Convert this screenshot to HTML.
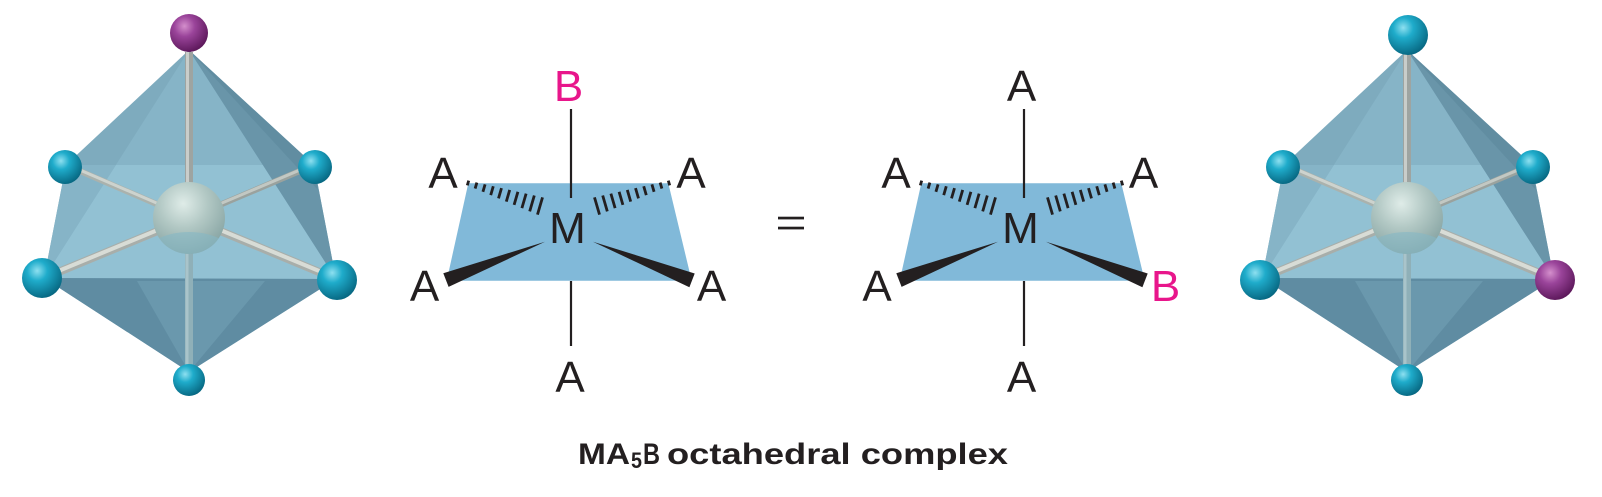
<!DOCTYPE html>
<html>
<head>
<meta charset="utf-8">
<style>
  html,body{margin:0;padding:0;background:#fff;}
  svg{display:block;}
  .lbl{font-family:"Liberation Sans",sans-serif;font-size:44px;fill:#231f20;}
  .pk{fill:#e8168b;}
  .cap{font-family:"Liberation Sans",sans-serif;font-weight:bold;fill:#231f20;}
</style>
</head>
<body>
<svg width="1602" height="497" viewBox="0 0 1602 497" xmlns="http://www.w3.org/2000/svg">
  <defs>
    <radialGradient id="cy" cx="0.38" cy="0.32" r="0.72">
      <stop offset="0" stop-color="#8ee0f0"/>
      <stop offset="0.35" stop-color="#1faccb"/>
      <stop offset="1" stop-color="#06657f"/>
    </radialGradient>
    <radialGradient id="pu" cx="0.38" cy="0.32" r="0.72">
      <stop offset="0" stop-color="#d48fcc"/>
      <stop offset="0.38" stop-color="#9a449a"/>
      <stop offset="1" stop-color="#5a1658"/>
    </radialGradient>
    <radialGradient id="ms" cx="0.42" cy="0.3" r="0.75">
      <stop offset="0" stop-color="#dfece8"/>
      <stop offset="0.45" stop-color="#b2c8c4"/>
      <stop offset="1" stop-color="#83a1a0"/>
    </radialGradient>
    <clipPath id="msclip"><circle cx="189" cy="218" r="36"/></clipPath>
    <g id="oct">
      <polygon points="189,50 66,165 44,278 189,372 336,279 314,165" fill="#7eabbe"/>
      <polygon points="66,165 116,165 44,278" fill="#86b4c7"/>
      <polygon points="189,50 44,278 336,279" fill="#86b4c7"/>
      <polygon points="116,165 263,165 336,279 44,278" fill="#92c1d3"/>
      <polygon points="189,50 314,165 336,279" fill="#6995a9"/>
      <polygon points="189,50 314,165 318,190" fill="#5c899d" opacity="0.6"/>
      <polygon points="44,278 336,279 189,372" fill="#5f8ca2"/>
      <polygon points="137,281 265,281 189,372" fill="#6a98ad"/>
      <line x1="189" y1="218" x2="189" y2="372" stroke="#8fb0b8" stroke-width="8"/>
      <line x1="187" y1="218" x2="187" y2="372" stroke="#a9c4ca" stroke-width="3"/>
      <line x1="189" y1="218" x2="66" y2="165" stroke="#aab2ad" stroke-width="6"/>
      <line x1="189" y1="217" x2="66" y2="164" stroke="#cdd3ce" stroke-width="3"/>
      <line x1="189" y1="218" x2="314" y2="165" stroke="#9aa29e" stroke-width="6"/>
      <line x1="189" y1="217" x2="314" y2="164" stroke="#c2c8c3" stroke-width="3"/>
      <line x1="189" y1="218" x2="189" y2="52" stroke="#9ea4a1" stroke-width="8"/>
      <line x1="187.5" y1="218" x2="187.5" y2="52" stroke="#c9cdca" stroke-width="3"/>
      <line x1="189" y1="218" x2="44" y2="278" stroke="#a8aeaa" stroke-width="8"/>
      <line x1="189" y1="217" x2="44" y2="277" stroke="#d8dcd6" stroke-width="4"/>
      <line x1="189" y1="218" x2="336" y2="279" stroke="#a8aeaa" stroke-width="8"/>
      <line x1="189" y1="217" x2="336" y2="278" stroke="#d8dcd6" stroke-width="4"/>
      <circle cx="189" cy="218" r="36" fill="url(#ms)"/>
      <ellipse cx="189" cy="258" rx="46" ry="26" fill="#86b7c4" opacity="0.6" clip-path="url(#msclip)"/>
    </g>
  </defs>

  <!-- Left octahedron -->
  <use href="#oct"/>
  <circle cx="65" cy="167" r="17" fill="url(#cy)"/>
  <circle cx="315" cy="167" r="17" fill="url(#cy)"/>
  <circle cx="189" cy="380" r="16" fill="url(#cy)"/>
  <circle cx="42" cy="278" r="20" fill="url(#cy)"/>
  <circle cx="337" cy="280" r="20" fill="url(#cy)"/>
  <circle cx="189" cy="33" r="19" fill="url(#pu)"/>

  <!-- Right octahedron -->
  <use href="#oct" transform="translate(1218,0)"/>
  <circle cx="1283" cy="167" r="17" fill="url(#cy)"/>
  <circle cx="1533" cy="167" r="17" fill="url(#cy)"/>
  <circle cx="1407" cy="380" r="16" fill="url(#cy)"/>
  <circle cx="1260" cy="280" r="20" fill="url(#cy)"/>
  <circle cx="1555" cy="280" r="20" fill="url(#pu)"/>
  <circle cx="1408" cy="35" r="20" fill="url(#cy)"/>

  <!-- Structure 1 -->
  <g id="s1g">
    <polygon points="468.3,183.3 668.3,183.3 691.7,280.7 446.7,280.7" fill="#81b9d9"/>
    <line x1="571" y1="109" x2="571" y2="198" stroke="#231f20" stroke-width="2.2"/>
    <line x1="571" y1="281" x2="571" y2="346" stroke="#231f20" stroke-width="2.2"/>
    <g stroke="#231f20" stroke-width="2.8">
      <line x1="468.70" y1="180.6" x2="467.30" y2="185.4"/>
      <line x1="476.88" y1="182.55" x2="475.12" y2="188.57"/>
      <line x1="485.08" y1="184.40" x2="482.92" y2="191.82"/>
      <line x1="493.28" y1="186.26" x2="490.72" y2="195.08"/>
      <line x1="501.49" y1="188.11" x2="498.51" y2="198.33"/>
      <line x1="509.70" y1="189.95" x2="506.30" y2="201.61"/>
      <line x1="517.90" y1="191.80" x2="514.10" y2="204.86"/>
      <line x1="526.11" y1="193.65" x2="521.89" y2="208.13"/>
      <line x1="534.31" y1="195.50" x2="529.69" y2="211.38"/>
      <line x1="542.52" y1="197.36" x2="537.48" y2="214.64"/>
      <line x1="668.30" y1="180.6" x2="669.70" y2="185.4"/>
      <line x1="660.12" y1="182.55" x2="661.88" y2="188.57"/>
      <line x1="651.92" y1="184.40" x2="654.08" y2="191.82"/>
      <line x1="643.72" y1="186.26" x2="646.28" y2="195.08"/>
      <line x1="635.51" y1="188.11" x2="638.49" y2="198.33"/>
      <line x1="627.30" y1="189.95" x2="630.70" y2="201.61"/>
      <line x1="619.10" y1="191.80" x2="622.90" y2="204.86"/>
      <line x1="610.89" y1="193.65" x2="615.11" y2="208.13"/>
      <line x1="602.69" y1="195.50" x2="607.31" y2="211.38"/>
      <line x1="594.48" y1="197.36" x2="599.52" y2="214.64"/>
    </g>
    <polygon points="545,241.7 443.3,273.3 448.6,286.9" fill="#231f20"/>
    <polygon points="593,241.7 694.7,273.5 689.4,287.2" fill="#231f20"/>
  </g>
  <text class="lbl pk" x="568.5" y="101" text-anchor="middle">B</text>
  <text class="lbl" x="567.5" y="243" text-anchor="middle">M</text>
  <text class="lbl" x="443" y="188" text-anchor="middle">A</text>
  <text class="lbl" x="691" y="188" text-anchor="middle">A</text>
  <text class="lbl" x="424.5" y="301" text-anchor="middle">A</text>
  <text class="lbl" x="711.5" y="301" text-anchor="middle">A</text>
  <text class="lbl" x="570" y="392" text-anchor="middle">A</text>

  <!-- equals -->
  <rect x="778" y="216.7" width="26" height="2.7" fill="#231f20"/>
  <rect x="778" y="226.7" width="26" height="2.7" fill="#231f20"/>

  <!-- Structure 2 -->
  <use href="#s1g" transform="translate(453,0)"/>
  <text class="lbl" x="1021.5" y="101" text-anchor="middle">A</text>
  <text class="lbl" x="1020.5" y="243" text-anchor="middle">M</text>
  <text class="lbl" x="896" y="188" text-anchor="middle">A</text>
  <text class="lbl" x="1143.5" y="188" text-anchor="middle">A</text>
  <text class="lbl" x="877" y="301" text-anchor="middle">A</text>
  <text class="lbl pk" x="1165.5" y="301" text-anchor="middle">B</text>
  <text class="lbl" x="1021.5" y="392" text-anchor="middle">A</text>

  <!-- caption -->
  <text class="cap" x="578" y="464" font-size="30" textLength="52" lengthAdjust="spacingAndGlyphs">MA</text>
  <text class="cap" x="631" y="468" font-size="22" textLength="11" lengthAdjust="spacingAndGlyphs">5</text>
  <text class="cap" x="643" y="464" font-size="30" textLength="17" lengthAdjust="spacingAndGlyphs">B</text>
  <text class="cap" x="667" y="464" font-size="30" textLength="341" lengthAdjust="spacingAndGlyphs">octahedral complex</text>
</svg>
</body>
</html>
